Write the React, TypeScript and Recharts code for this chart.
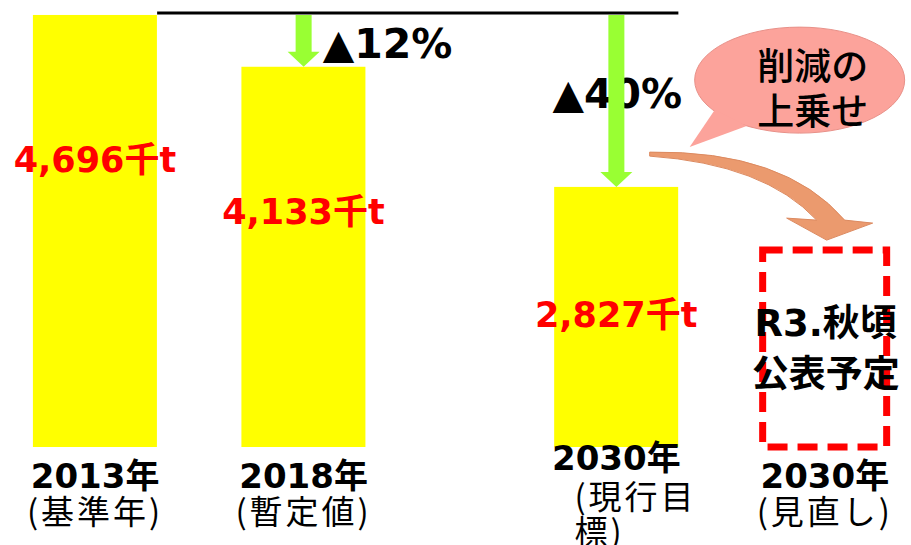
import React from "react";
import { Bar, BarChart, LabelList, ReferenceLine, XAxis, YAxis } from "recharts";

// slots on the x axis; empty strings are spacing slots between the years
const categories = ["2013年(基準年)", "", "2018年(暫定値)", "", "", "2030年(現行目標)", "", "2030年(見直し)"];
const emissions = [4696, null, 4133, null, null, 2827, null, null];
// placeholder for the revised target (not yet published)
const pendingTarget = [null, null, null, null, null, null, null, 2140];
const reductionLabels = [null, null, "▲12%", null, null, "▲40%", null, null];
const baseYearValue = 4696;
const unit = "千t";
const calloutLines = ["削減の", "上乗せ"];
const pendingLines = ["R3.秋頃", "公表予定"];

const BAR_W = 124;
const LATIN = '"DejaVu Sans", "Noto Sans CJK JP", sans-serif';
const CJK = '"Noto Sans CJK JP", sans-serif';

const data = categories.map((label, i) => ({
  key: `c${i}`,
  label,
  emissions: emissions[i],
  pending: pendingTarget[i],
}));

const lastCut = reductionLabels.reduce((acc, l, i) => (l ? i : acc), 0);

const YellowBar = (props: any) => {
  const { x, y, width, height } = props;
  if (!height) return null;
  const cx = x + width / 2;
  return <rect x={cx - BAR_W / 2} y={y} width={BAR_W} height={height} fill="#ffff00" />;
};

const PendingBox = (props: any) => {
  const { x, y, width, height } = props;
  if (!height) return null;
  const cx = x + width / 2;
  return (
    <g>
      <g transform={`translate(${cx},${y})`}>
        <path
          d="M -175 -98 Q -40 -100 20 -30 L 48 -27 L 2 -10 L -38 -32 L -8 -30 Q -60 -86 -175 -94 Z"
          fill="#eb9a6e"
          stroke="#dc8a60"
          strokeWidth={1}
        />
        <ellipse cx={-25} cy={-170} rx={105} ry={53} fill="#fca39b" stroke="#e89088" strokeWidth={1} />
        <path d="M -110 -140 L -135 -103 L -78 -124 Z" fill="#fca39b" />
        {calloutLines.map((t, i) => (
          <text
            key={t}
            x={-12}
            y={-170 + i * 45}
            textAnchor="middle"
            fontFamily={CJK}
            fontWeight={500}
            fontSize={37}
            fill="#000"
          >
            {t}
          </text>
        ))}
      </g>
      <rect
        x={cx - BAR_W / 2}
        y={y}
        width={BAR_W}
        height={height}
        fill="none"
        stroke="#ff0000"
        strokeWidth={7}
        strokeDasharray="20 10"
      />
      {pendingLines.map((t, i) => (
        <text
          key={t}
          x={cx + 1}
          y={y + 86 + i * 51}
          textAnchor="middle"
          fontFamily={LATIN}
          fontWeight="bold"
          fontSize={37}
          fill="#000"
        >
          {t}
        </text>
      ))}
    </g>
  );
};

const ValueLabel = (props: any) => {
  const { x, y, width, height, value } = props;
  if (value == null) return null;
  return (
    <text
      x={x + width / 2}
      y={y + Math.min(157, height * 0.54)}
      textAnchor="middle"
      fontFamily={LATIN}
      fontWeight="bold"
      fontSize={35}
      fill="#ff0000"
    >
      {value.toLocaleString("en-US") + unit}
    </text>
  );
};

const CutArrow = (props: any) => {
  const { x1, y1, y2, label } = props;
  const len = y2 - y1;
  const head = 15;
  const long = len > 100;
  return (
    <g>
      <text
        x={long ? x1 + 1 : x1 + 19}
        y={long ? y1 + len * 0.54 : y2 - 9}
        textAnchor={long ? "middle" : "start"}
        fontFamily={LATIN}
        fontWeight="bold"
        fontSize={41}
        fill="#000"
      >
        {label}
      </text>
      <path
        d={`M ${x1 - 8} ${y1} L ${x1 + 8} ${y1} L ${x1 + 8} ${y2 - head} L ${x1 + 16} ${y2 - head} L ${x1} ${y2} L ${x1 - 16} ${y2 - head} L ${x1 - 8} ${y2 - head} Z`}
        fill="#99ff33"
      />
    </g>
  );
};

const CategoryTick = (props: any) => {
  const { x, y, payload } = props;
  const row = data.find((d) => d.key === payload.value);
  if (!row || !row.label) return null;
  const cut = row.label.indexOf("年") + 1;
  const year = row.label.slice(0, cut);
  const note = row.label.slice(cut);
  const noteLines = note.length > 5 ? [note.slice(0, 4), note.slice(4)] : [note];
  const wrapped = noteLines.length > 1;
  return (
    <g>
      <text
        x={x}
        y={y + (wrapped ? 23 : 41)}
        textAnchor="middle"
        fontFamily={LATIN}
        fontWeight="bold"
        fontSize={34}
        fill="#000"
      >
        {year}
      </text>
      {noteLines.map((t, i) => (
        <text
          key={t}
          x={wrapped ? x - 42 : x}
          y={y + (wrapped ? 62 + i * 35 : 77)}
          textAnchor={wrapped ? "start" : "middle"}
          fontFamily={CJK}
          fontSize={33}
          letterSpacing={3}
          fill="#000"
        >
          {t}
        </text>
      ))}
    </g>
  );
};

export default function App() {
  return (
    <div style={{ position: "absolute", left: 0, top: 0, background: "#fff" }}>
      <BarChart width={911} height={545} data={data} margin={{ top: 10, right: 34, bottom: 0, left: 43 }}>
        <YAxis hide domain={[0, 4750]} />
        <XAxis
          dataKey="key"
          interval={0}
          height={98}
          axisLine={false}
          tickLine={false}
          tickSize={0}
          tickMargin={0}
          tick={<CategoryTick />}
        />
        <Bar dataKey="emissions" stackId="a" barSize={BAR_W} shape={<YellowBar />} isAnimationActive={false}>
          <LabelList dataKey="emissions" content={<ValueLabel />} />
        </Bar>
        <Bar dataKey="pending" stackId="a" barSize={BAR_W} shape={<PendingBox />} isAnimationActive={false} />
        <ReferenceLine
          segment={[
            { x: "c0", y: baseYearValue },
            { x: `c${lastCut}`, y: baseYearValue },
          ]}
          shape={(p: any) => (
            <line x1={p.x1 + BAR_W / 2} y1={p.y1 - 2} x2={p.x2 + BAR_W / 2} y2={p.y2 - 2} stroke="#000" strokeWidth={3} />
          )}
        />
        {reductionLabels.map((lab, i) =>
          lab ? (
            <ReferenceLine
              key={lab}
              segment={[
                { x: `c${i}`, y: baseYearValue },
                { x: `c${i}`, y: emissions[i] as number },
              ]}
              shape={(p: any) => <CutArrow {...p} label={lab} />}
            />
          ) : null
        )}
      </BarChart>
    </div>
  );
}
